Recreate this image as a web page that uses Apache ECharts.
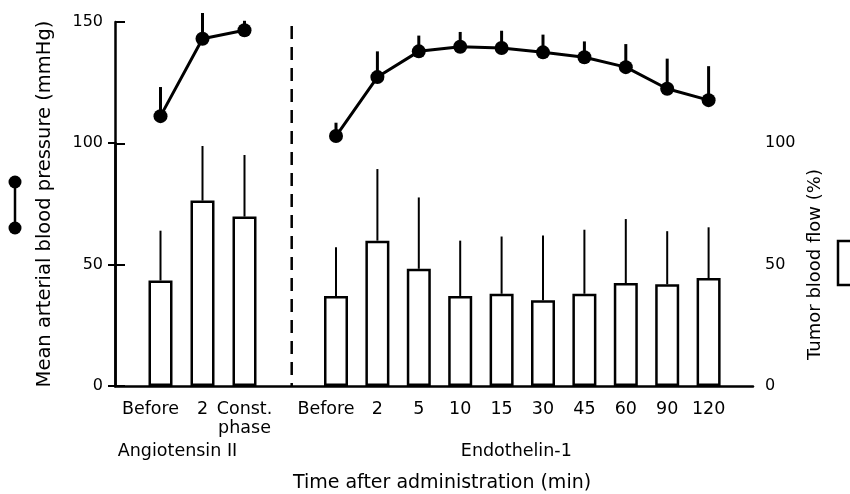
<!DOCTYPE html>
<html><head><meta charset="utf-8">
<script src="https://cdn.jsdelivr.net/npm/echarts@6/dist/echarts.min.js"></script>
<style>html,body{margin:0;padding:0;background:#fff}#c{width:850px;height:494px}</style>
</head><body><div id="c"></div>
<script>
// ---- data ----
const angioCategories = ['Before', '2', 'Const.\nphase'];
const endoCategories = ['Before', '2', '5', '10', '15', '30', '45', '60', '90', '120'];

// Mean arterial blood pressure (mmHg), mean and SD (upper bar)
const angioBP = [111.2, 143.1, 146.6];
const angioBPSD = [12.0, 10.6, 3.9];
const endoBP = [103.0, 127.3, 137.9, 139.8, 139.3, 137.5, 135.5, 131.4, 122.5, 117.8];
const endoBPSD = [5.5, 10.6, 6.5, 6.1, 7.1, 7.3, 6.5, 9.5, 12.4, 14.0];

// Tumor blood flow (%), mean and SD (upper bar)
const angioFlow = [43.5, 76.4, 69.8];
const angioFlowSD = [20.5, 22.5, 25.4];
const endoFlow = [37.1, 59.9, 48.3, 37.1, 38.0, 35.3, 38.0, 42.4, 41.9, 44.5];
const endoFlowSD = [20.1, 29.5, 29.4, 22.8, 23.6, 26.7, 26.4, 26.4, 21.9, 20.9];

const groupNames = ['Angiotensin II', 'Endothelin-1'];
const xTitle = 'Time after administration (min)';
const leftAxisName = 'Mean arterial blood pressure (mmHg)';
const rightAxisName = 'Tumor blood flow (%)';

// ---- chart ----
const FONT = 'DejaVu Sans';
const chart = echarts.init(document.getElementById('c'), null, {renderer: 'canvas'});

function errRender(width) {
  return function (params, api) {
    const x = api.value(0);
    const p0 = api.coord([x, api.value(1)]);
    const p1 = api.coord([x, api.value(2)]);
    return {type: 'line', shape: {x1: p0[0], y1: p0[1], x2: p1[0], y2: p1[1]},
      style: {stroke: '#000', lineWidth: width}};
  };
}
const withErr = (m, sd) => m.map((v, i) => [i, v, v + sd[i]]);
// "Before" labels sit slightly left of their bars in the original
const catItems = (cats) => cats.map(c => c === 'Before'
  ? {value: c, textStyle: {padding: [0, 20, 0, 0]}} : c);

const catAxis = (gridIndex, data, name, namePad) => ({
  type: 'category', gridIndex, data: catItems(data),
  axisLine: {show: false}, axisTick: {show: false}, splitLine: {show: false},
  axisLabel: {interval: 0, margin: 14, color: '#000', fontFamily: FONT, fontSize: 17.5, lineHeight: 19},
  name, nameLocation: 'middle', nameGap: 56,
  nameTextStyle: {color: '#000', fontFamily: FONT, fontSize: 17.5, padding: namePad}
});
const hiddenY = (gridIndex) => ({type: 'value', gridIndex, min: 0, max: 150, show: false});

const option = {
  backgroundColor: '#fff',
  animation: false,
  title: {text: xTitle, left: 437, top: 469, textAlign: 'center',
    textStyle: {color: '#000', fontFamily: FONT, fontSize: 19, fontWeight: 'normal'}},
  grid: [
    {left: 115, right: 97, top: 22, bottom: 108},
    {left: 115, right: 97, top: 143, bottom: 108},
    {left: 139.5, width: 126, top: 22, bottom: 108},
    {left: 315.3, width: 414, top: 22, bottom: 108}
  ],
  xAxis: [
    {type: 'value', gridIndex: 0, min: 0, max: 1, axisLine: {show: true, onZero: false, lineStyle: {color: '#000', width: 2.5}},
      axisTick: {show: false}, axisLabel: {show: false}, splitLine: {show: false}},
    {type: 'value', gridIndex: 1, min: 0, max: 1, show: false},
    catAxis(2, angioCategories, groupNames[0], [0, 50, 0, 0]),
    catAxis(3, endoCategories, groupNames[1], [0, 12, 0, 0])
  ],
  yAxis: [
    {type: 'value', gridIndex: 0, min: 0, max: 150, interval: 50, position: 'left',
      axisLine: {show: true, lineStyle: {color: '#000', width: 2.5}},
      axisTick: {show: true, inside: true, length: 10, lineStyle: {color: '#000', width: 2}},
      axisLabel: {color: '#000', fontFamily: FONT, fontSize: 16, margin: 12},
      splitLine: {show: false},
      name: leftAxisName, nameLocation: 'middle', nameGap: 60,
      nameTextStyle: {color: '#000', fontFamily: FONT, fontSize: 19.5}},
    {type: 'value', gridIndex: 1, min: 0, max: 100, interval: 50, position: 'right',
      axisLine: {show: true, lineStyle: {color: '#000', width: 2.5}},
      axisTick: {show: true, inside: true, length: 7, lineStyle: {color: '#000', width: 2}},
      axisLabel: {color: '#000', fontFamily: FONT, fontSize: 16, margin: 12},
      splitLine: {show: false},
      name: rightAxisName, nameLocation: 'middle', nameGap: 52, nameRotate: 90,
      nameTextStyle: {color: '#000', fontFamily: FONT, fontSize: 18}},
    hiddenY(2),
    hiddenY(3)
  ],
  series: [
    {type: 'bar', xAxisIndex: 2, yAxisIndex: 2, data: angioFlow, barWidth: 24, z: 2,
      itemStyle: {color: '#fff', borderColor: '#000', borderWidth: 2.5}},
    {type: 'bar', xAxisIndex: 3, yAxisIndex: 3, data: endoFlow, barWidth: 24, z: 2,
      itemStyle: {color: '#fff', borderColor: '#000', borderWidth: 2.5}},
    {type: 'custom', xAxisIndex: 2, yAxisIndex: 2, data: withErr(angioFlow, angioFlowSD), renderItem: errRender(2), z: 1},
    {type: 'custom', xAxisIndex: 3, yAxisIndex: 3, data: withErr(endoFlow, endoFlowSD), renderItem: errRender(2), z: 1},
    {type: 'custom', xAxisIndex: 2, yAxisIndex: 2, data: withErr(angioBP, angioBPSD), renderItem: errRender(3), z: 4, clip: false},
    {type: 'custom', xAxisIndex: 3, yAxisIndex: 3, data: withErr(endoBP, endoBPSD), renderItem: errRender(3), z: 4, clip: false},
    {type: 'line', xAxisIndex: 2, yAxisIndex: 2, data: angioBP, symbol: 'circle', symbolSize: 14, z: 5,
      lineStyle: {color: '#000', width: 3}, itemStyle: {color: '#000'}},
    {type: 'line', xAxisIndex: 3, yAxisIndex: 3, data: endoBP, symbol: 'circle', symbolSize: 14, z: 5,
      lineStyle: {color: '#000', width: 3}, itemStyle: {color: '#000'}}
  ],
  graphic: [
    {type: 'line', shape: {x1: 291.7, y1: 26, x2: 291.7, y2: 386},
      style: {stroke: '#000', lineWidth: 2.5, lineDash: [13, 8]}},
    {type: 'line', shape: {x1: 15, y1: 182, x2: 15, y2: 228}, style: {stroke: '#000', lineWidth: 2.5}},
    {type: 'circle', shape: {cx: 15, cy: 182, r: 6.5}, style: {fill: '#000'}},
    {type: 'circle', shape: {cx: 15, cy: 228, r: 6.5}, style: {fill: '#000'}},
    {type: 'rect', shape: {x: 838, y: 241, width: 20, height: 44}, style: {fill: '#fff', stroke: '#000', lineWidth: 2.5}}
  ]
};
chart.setOption(option);
</script>
</body></html>
